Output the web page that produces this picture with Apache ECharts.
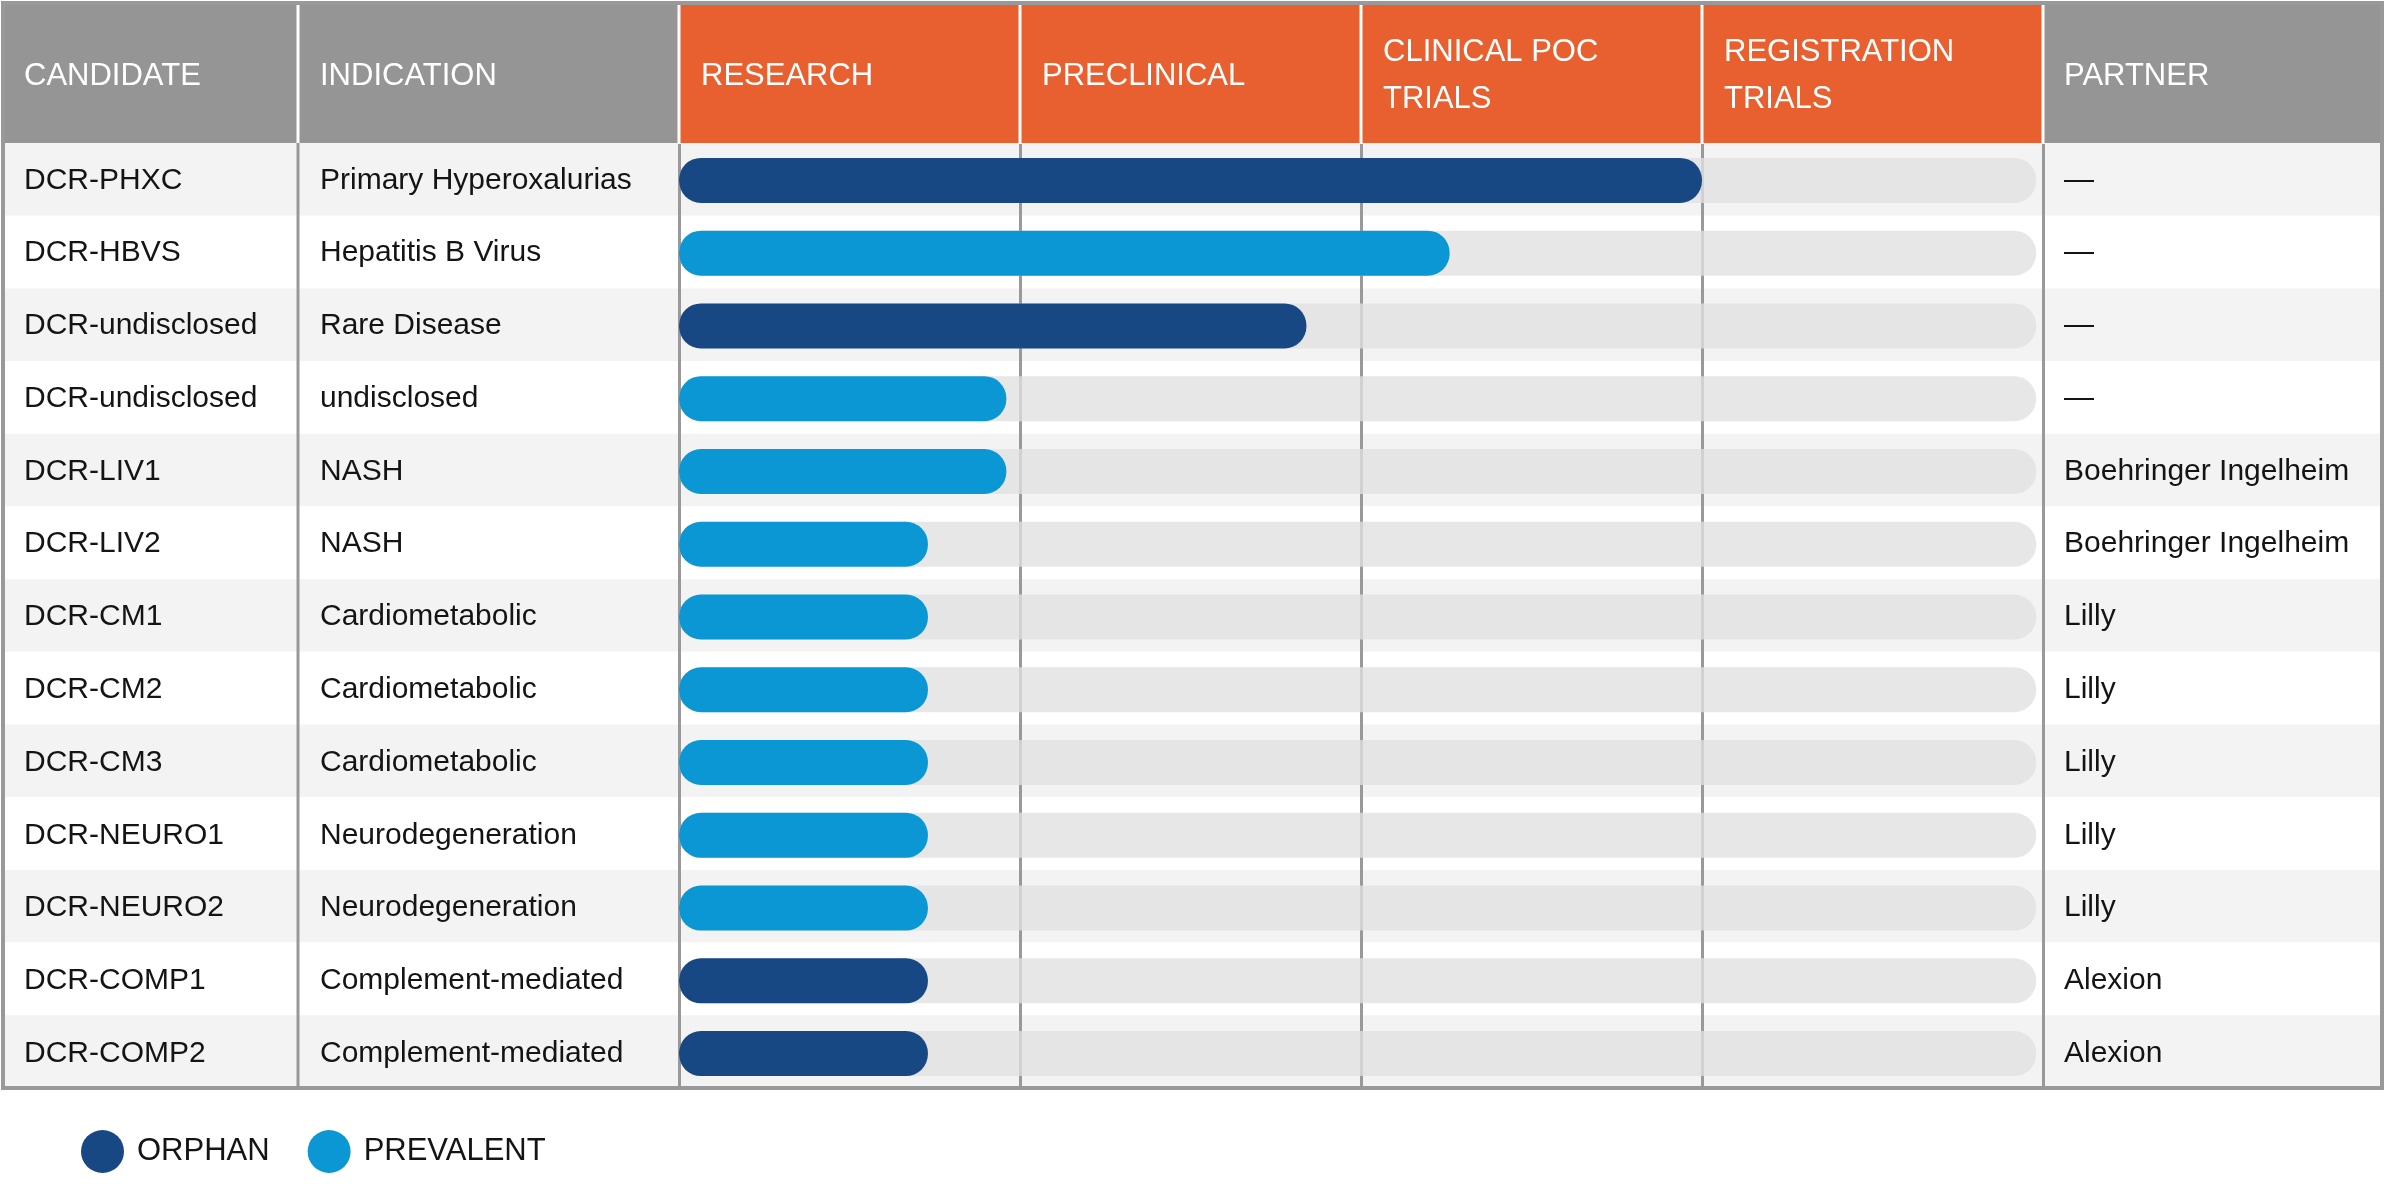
<!DOCTYPE html>
<html><head><meta charset="utf-8">
<script src="https://cdn.jsdelivr.net/npm/echarts@6/dist/echarts.min.js"></script>
<style>html,body{margin:0;padding:0;background:#fff}#c{width:2396px;height:1196px}</style>
</head><body><div id="c"></div>
<script>
const candidates = ['DCR-PHXC','DCR-HBVS','DCR-undisclosed','DCR-undisclosed','DCR-LIV1','DCR-LIV2','DCR-CM1','DCR-CM2','DCR-CM3','DCR-NEURO1','DCR-NEURO2','DCR-COMP1','DCR-COMP2'];
const indications = ['Primary Hyperoxalurias','Hepatitis B Virus','Rare Disease','undisclosed','NASH','NASH','Cardiometabolic','Cardiometabolic','Cardiometabolic','Neurodegeneration','Neurodegeneration','Complement-mediated','Complement-mediated'];
const partners = ['—','—','—','—','Boehringer Ingelheim','Boehringer Ingelheim','Lilly','Lilly','Lilly','Lilly','Lilly','Alexion','Alexion'];
const stages = ['RESEARCH','PRECLINICAL','CLINICAL POC\nTRIALS','REGISTRATION\nTRIALS'];
const sideHeaders = ['CANDIDATE','INDICATION','PARTNER'];
const legendNames = ['ORPHAN','PREVALENT'];
const orphanValues = [3.0,'-',1.84,'-','-','-','-','-','-','-','-',0.73,0.73];
const prevalentValues = ['-',2.26,'-',0.96,0.96,0.73,0.73,0.73,0.73,0.73,0.73,'-','-'];
const trackEnd = 3.98;

const FONT = "'Liberation Sans Narrow','Liberation Sans',sans-serif";
const BODY_SIZE = 30, HEAD_SIZE = 31;
const TOP = 143, BOTTOM = 1088, LEFT = 3, RIGHT = 2382;
const PH_LEFT = 679, PH_RIGHT = 2043;
const IND_LEFT = 298;

const chart = echarts.init(document.getElementById('c'), null, {renderer:'canvas'});
const bandLabel = {color:'#141414', fontSize:BODY_SIZE, fontFamily:FONT, align:'left', padding:[7,0,0,0]};
chart.setOption({
  animation:false,
  backgroundColor:'#fff',
  grid:[
    {left:LEFT, top:TOP, width:RIGHT-LEFT, height:BOTTOM-TOP},
    {left:PH_LEFT, top:TOP+1, width:PH_RIGHT-PH_LEFT, height:BOTTOM-TOP+1}
  ],
  xAxis:[
    {gridIndex:0, type:'value', min:0, max:1, show:false, z:-2},
    {gridIndex:1, type:'value', min:0, max:4, interval:1, axisLabel:{show:false}, axisLine:{show:false}, axisTick:{show:false},
     splitLine:{show:true, lineStyle:{color:'#999', width:3}}, z:1}
  ],
  yAxis:[
    {gridIndex:0, type:'category', inverse:true, data:candidates, axisLabel:{show:false}, axisLine:{show:false}, axisTick:{show:false},
     splitArea:{show:true, areaStyle:{color:['#f3f3f3','#ffffff']}}, splitLine:{show:false}, z:-2},
    {gridIndex:1, type:'category', inverse:true, data:candidates, position:'left', offset:PH_LEFT-24,
     axisLine:{show:false}, axisTick:{show:false}, axisLabel:Object.assign({margin:0}, bandLabel)},
    {gridIndex:1, type:'category', inverse:true, data:indications, position:'left', offset:PH_LEFT-320,
     axisLine:{show:false}, axisTick:{show:false}, axisLabel:Object.assign({margin:0}, bandLabel)},
    {gridIndex:1, type:'category', inverse:true, data:partners, position:'right', offset:0,
     axisLine:{show:false}, axisTick:{show:false}, axisLabel:Object.assign({margin:21}, bandLabel)}
  ],
  legend:{
    data:legendNames, left:76, top:1125, icon:'circle', itemWidth:43, itemHeight:43, itemGap:38,
    textStyle:{fontSize:HEAD_SIZE, fontFamily:FONT, color:'#141414', padding:[0,0,0,8]}
  },
  series:[
    {name:'track', type:'bar', xAxisIndex:1, yAxisIndex:1, barWidth:45, barGap:'-100%', silent:true,
     data:candidates.map(()=>trackEnd), itemStyle:{color:'rgba(224,224,224,0.78)', borderRadius:22}, z:2},
    {name:legendNames[0], type:'bar', xAxisIndex:1, yAxisIndex:1, barWidth:45, barGap:'-100%',
     data:orphanValues, itemStyle:{color:'#184884', borderRadius:22}, z:3},
    {name:legendNames[1], type:'bar', xAxisIndex:1, yAxisIndex:1, barWidth:45, barGap:'-100%',
     data:prevalentValues, itemStyle:{color:'#0b97d4', borderRadius:22}, z:3}
  ]
});

// header and table frame
const g = [];
const headY = (3+TOP)/2 + 3;
g.push({type:'rect', shape:{x:LEFT, y:3, width:PH_LEFT-LEFT, height:TOP-3}, style:{fill:'#959595'}, z:5});
g.push({type:'rect', shape:{x:PH_RIGHT, y:3, width:RIGHT-PH_RIGHT, height:TOP-3}, style:{fill:'#959595'}, z:5});
g.push({type:'rect', shape:{x:PH_LEFT, y:3, width:PH_RIGHT-PH_LEFT, height:TOP-3}, style:{fill:'#e8602f'}, z:5});
const stageX = [0,1,2,3,4].map(v => chart.convertToPixel({xAxisIndex:1}, v));
[IND_LEFT].concat(stageX).forEach(x => {
  g.push({type:'line', shape:{x1:x, y1:3, x2:x, y2:TOP}, style:{stroke:'#fff', lineWidth:3}, z:6});
});
g.push({type:'line', shape:{x1:IND_LEFT, y1:TOP, x2:IND_LEFT, y2:BOTTOM}, style:{stroke:'#999', lineWidth:3}, z:6});
g.push({type:'rect', shape:{x:LEFT, y:3, width:RIGHT-LEFT, height:BOTTOM-3}, style:{fill:null, stroke:'#999', lineWidth:4}, z:7});
const headStyle = {fill:'#fff', fontSize:HEAD_SIZE, fontFamily:FONT, textVerticalAlign:'middle', verticalAlign:'middle', lineHeight:47};
g.push({type:'text', x:24, y:headY, style:Object.assign({text:sideHeaders[0]}, headStyle), z:8});
g.push({type:'text', x:IND_LEFT+22, y:headY, style:Object.assign({text:sideHeaders[1]}, headStyle), z:8});
g.push({type:'text', x:PH_RIGHT+21, y:headY, style:Object.assign({text:sideHeaders[2]}, headStyle), z:8});
stages.forEach((s,i) => {
  g.push({type:'text', x:stageX[i]+22, y:headY, style:Object.assign({text:s}, headStyle), z:8});
});
chart.setOption({graphic:g});
</script></body></html>
